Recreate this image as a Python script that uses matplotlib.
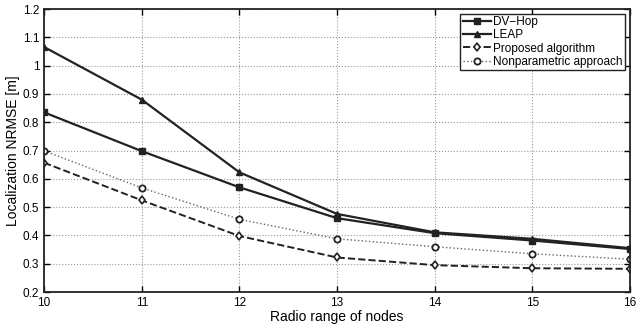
import matplotlib
matplotlib.use("Agg")
import matplotlib.pyplot as plt

plt.rcParams['font.family'] = ['Liberation Sans', 'DejaVu Sans']

radio_range = [10, 11, 12, 13, 14, 15, 16]
dv_hop = [0.835, 0.698, 0.570, 0.461, 0.408, 0.382, 0.352]
leap = [1.066, 0.880, 0.623, 0.476, 0.411, 0.388, 0.355]
proposed = [0.657, 0.524, 0.398, 0.322, 0.295, 0.284, 0.282]
nonparam = [0.699, 0.568, 0.457, 0.388, 0.360, 0.335, 0.316]

fig = plt.figure(figsize=(6.39, 3.25), dpi=100)
ax = fig.add_axes([0.069, 0.1015, 0.917, 0.8705])

ax.plot(radio_range, dv_hop, '-', color='#222222', lw=1.6, marker='s', ms=4, mfc='#222222', mec='#222222', label='DV\u2212Hop')
ax.plot(radio_range, leap, '-', color='#222222', lw=1.6, marker='^', ms=5, mfc='#222222', mec='#222222', label='LEAP')
ax.plot(radio_range, proposed, '--', color='#222222', lw=1.4, marker='d', ms=4.5, mfc='white', mec='#222222', mew=1.2, label='Proposed algorithm')
ax.plot(radio_range, nonparam, ':', color='#666666', lw=1.0, marker='o', ms=4.5, mfc='white', mec='#222222', mew=1.3, label='Nonparametric approach')

ax.set_xlim(10, 16)
ax.set_ylim(0.2, 1.2)
ax.set_xticks(radio_range)
ax.set_yticks([0.2, 0.3, 0.4, 0.5, 0.6, 0.7, 0.8, 0.9, 1.0, 1.1, 1.2])
ax.set_yticklabels(['0.2', '0.3', '0.4', '0.5', '0.6', '0.7', '0.8', '0.9', '1', '1.1', '1.2'])
ax.tick_params(direction='in', top=True, right=True, labelsize=8.5, length=4, width=1)
ax.grid(True, linestyle=':', color='#999999', lw=0.8)
for s in ax.spines.values():
    s.set_linewidth(1.3)
    s.set_color('#222222')

ax.set_xlabel('Radio range of nodes', fontsize=10, labelpad=1)
ax.set_ylabel('Localization NRMSE [m]', fontsize=10, labelpad=2)

leg = ax.legend(loc='upper right', fontsize=8.5, fancybox=False, edgecolor='#222222',
                framealpha=1, borderpad=0.2, labelspacing=0.1, handlelength=2.4,
                handletextpad=0.2, borderaxespad=0.4)
leg.get_frame().set_linewidth(1.0)

fig.savefig('out.png', dpi=100)
